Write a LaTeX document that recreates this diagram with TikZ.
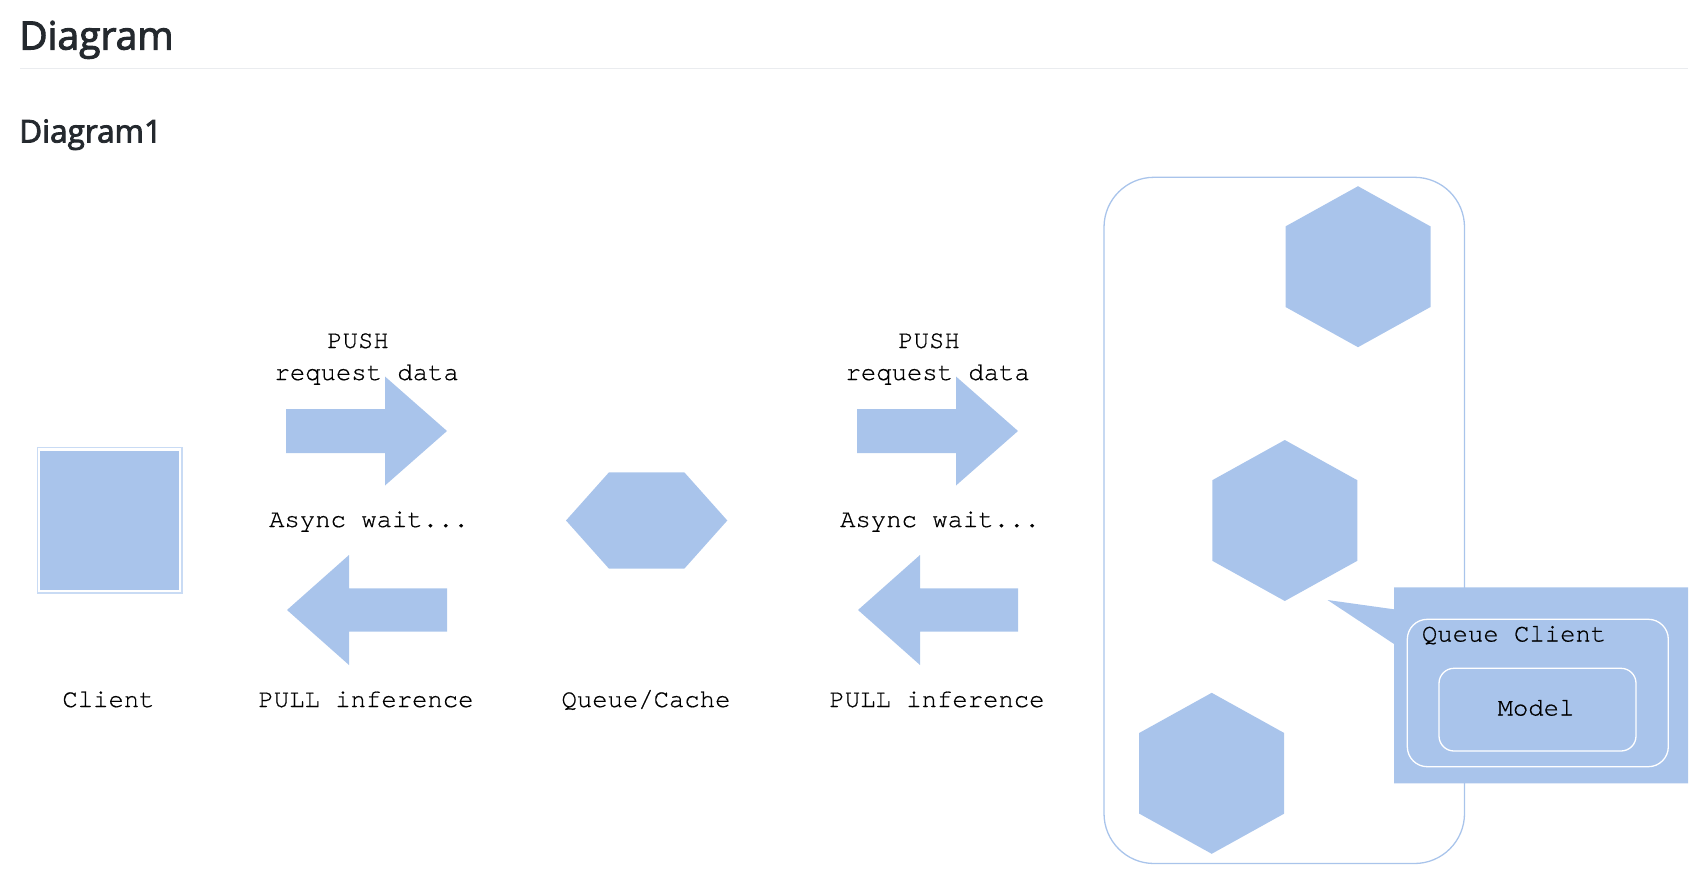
\documentclass[tikz,border=0pt]{standalone}
\usepackage{fontspec}
\setmainfont{Open Sans}
\newfontfamily\headfont{Open Sans}[FakeBold=2.6]
\newfontfamily\monofont{TeX Gyre Cursor}[FakeBold=0.6]
\definecolor{boxfill}{HTML}{A9C4EB}
\definecolor{headtext}{HTML}{24292E}
\definecolor{rulecol}{HTML}{EAECEF}
\definecolor{clientedge}{HTML}{C9DBF4}
\begin{document}
\begin{tikzpicture}[x=1pt,y=-1pt,
  monolabel/.style={inner sep=0pt,anchor=base,font=\monofont\fontsize{25.6}{32}\selectfont,text=black},
  headlabel/.style={inner sep=0pt,anchor=base west,text=headtext},
  hexv/.pic={\fill[boxfill] (-72.5,-40.3) -- (0,-80.5) -- (72.5,-40.3) -- (72.5,40.3) -- (0,80.5) -- (-72.5,40.3) -- cycle;},
  pusharrow/.pic={\fill[boxfill] (0,-22) -- (99,-22) -- (99,-54.5) -- (161,0) -- (99,54.5) -- (99,22) -- (0,22) -- cycle;},
  pullarrow/.pic={\fill[boxfill] (0,-21.7) -- (-98,-21.7) -- (-98,-55) -- (-160,0) -- (-98,55) -- (-98,21.7) -- (0,21.7) -- cycle;}
]
\useasboundingbox (0,0) rectangle (1702,877);
% headings
\node[headlabel,font=\headfont\fontsize{39}{44}\selectfont] (h1) at (19,49.5) {Diagram};
\draw[rulecol,line width=1pt] (20,68.5) coordinate (rl) -- (1688,68.5) coordinate (rr);
\node[headlabel,font=\headfont\fontsize{31.5}{36}\selectfont] (h2) at (19,142.5) {Diagram1};

% client
\fill[boxfill] (40,450.7) rectangle (179.3,590);
\draw[clientedge,line width=1.3pt] (37.6,447.6) rectangle (182,593);
\node[monolabel] (client) at (108.5,707) {Client};

% first pair of arrows
\pic at (286,431) {pusharrow};
\node[monolabel] (push1) at (358,348) {PUSH};
\node[monolabel] (req1) at (366.7,380) {request data};
\node[monolabel] (wait1) at (369,527) {Async wait...};
\pic at (447,610) {pullarrow};
\node[monolabel] (pull1) at (366,707) {PULL inference};

% queue / cache
\fill[boxfill] (566,520.5) -- (609,472.3) -- (684.3,472.3) -- (727.3,520.5) -- (684.3,568.7) -- (609,568.7) -- cycle;
\node[monolabel] (queue) at (646,707) {Queue/Cache};

% second pair of arrows
\pic at (857,431) {pusharrow};
\node[monolabel] (push2) at (929,348) {PUSH};
\node[monolabel] (req2) at (937.7,380) {request data};
\node[monolabel] (wait2) at (940,527) {Async wait...};
\pic at (1018,610) {pullarrow};
\node[monolabel] (pull2) at (937,707) {PULL inference};

% container
\draw[boxfill,line width=1.3pt,rounded corners=50pt] (1104,177.3) rectangle (1464.5,863.5);
\pic at (1358,266.7) {hexv};
\pic at (1284.8,520.5) {hexv};
\pic at (1211.7,773.3) {hexv};

% callout
\fill[boxfill] (1394,587.3) -- (1688,587.3) -- (1688,783.3) -- (1394,783.3) -- (1394,644) -- (1327.5,600) -- (1394,609.3) -- cycle;
\draw[white,line width=1.3pt,rounded corners=20pt] (1407.3,619.3) rectangle (1668.3,766.7);
\node[monolabel,anchor=base west] (qc) at (1421.7,641.5) {Queue Client};
\draw[white,line width=1.3pt,rounded corners=15pt] (1439,668.3) rectangle (1636,751);
\node[monolabel] (model) at (1536,715.5) {Model};
\end{tikzpicture}
\end{document}
